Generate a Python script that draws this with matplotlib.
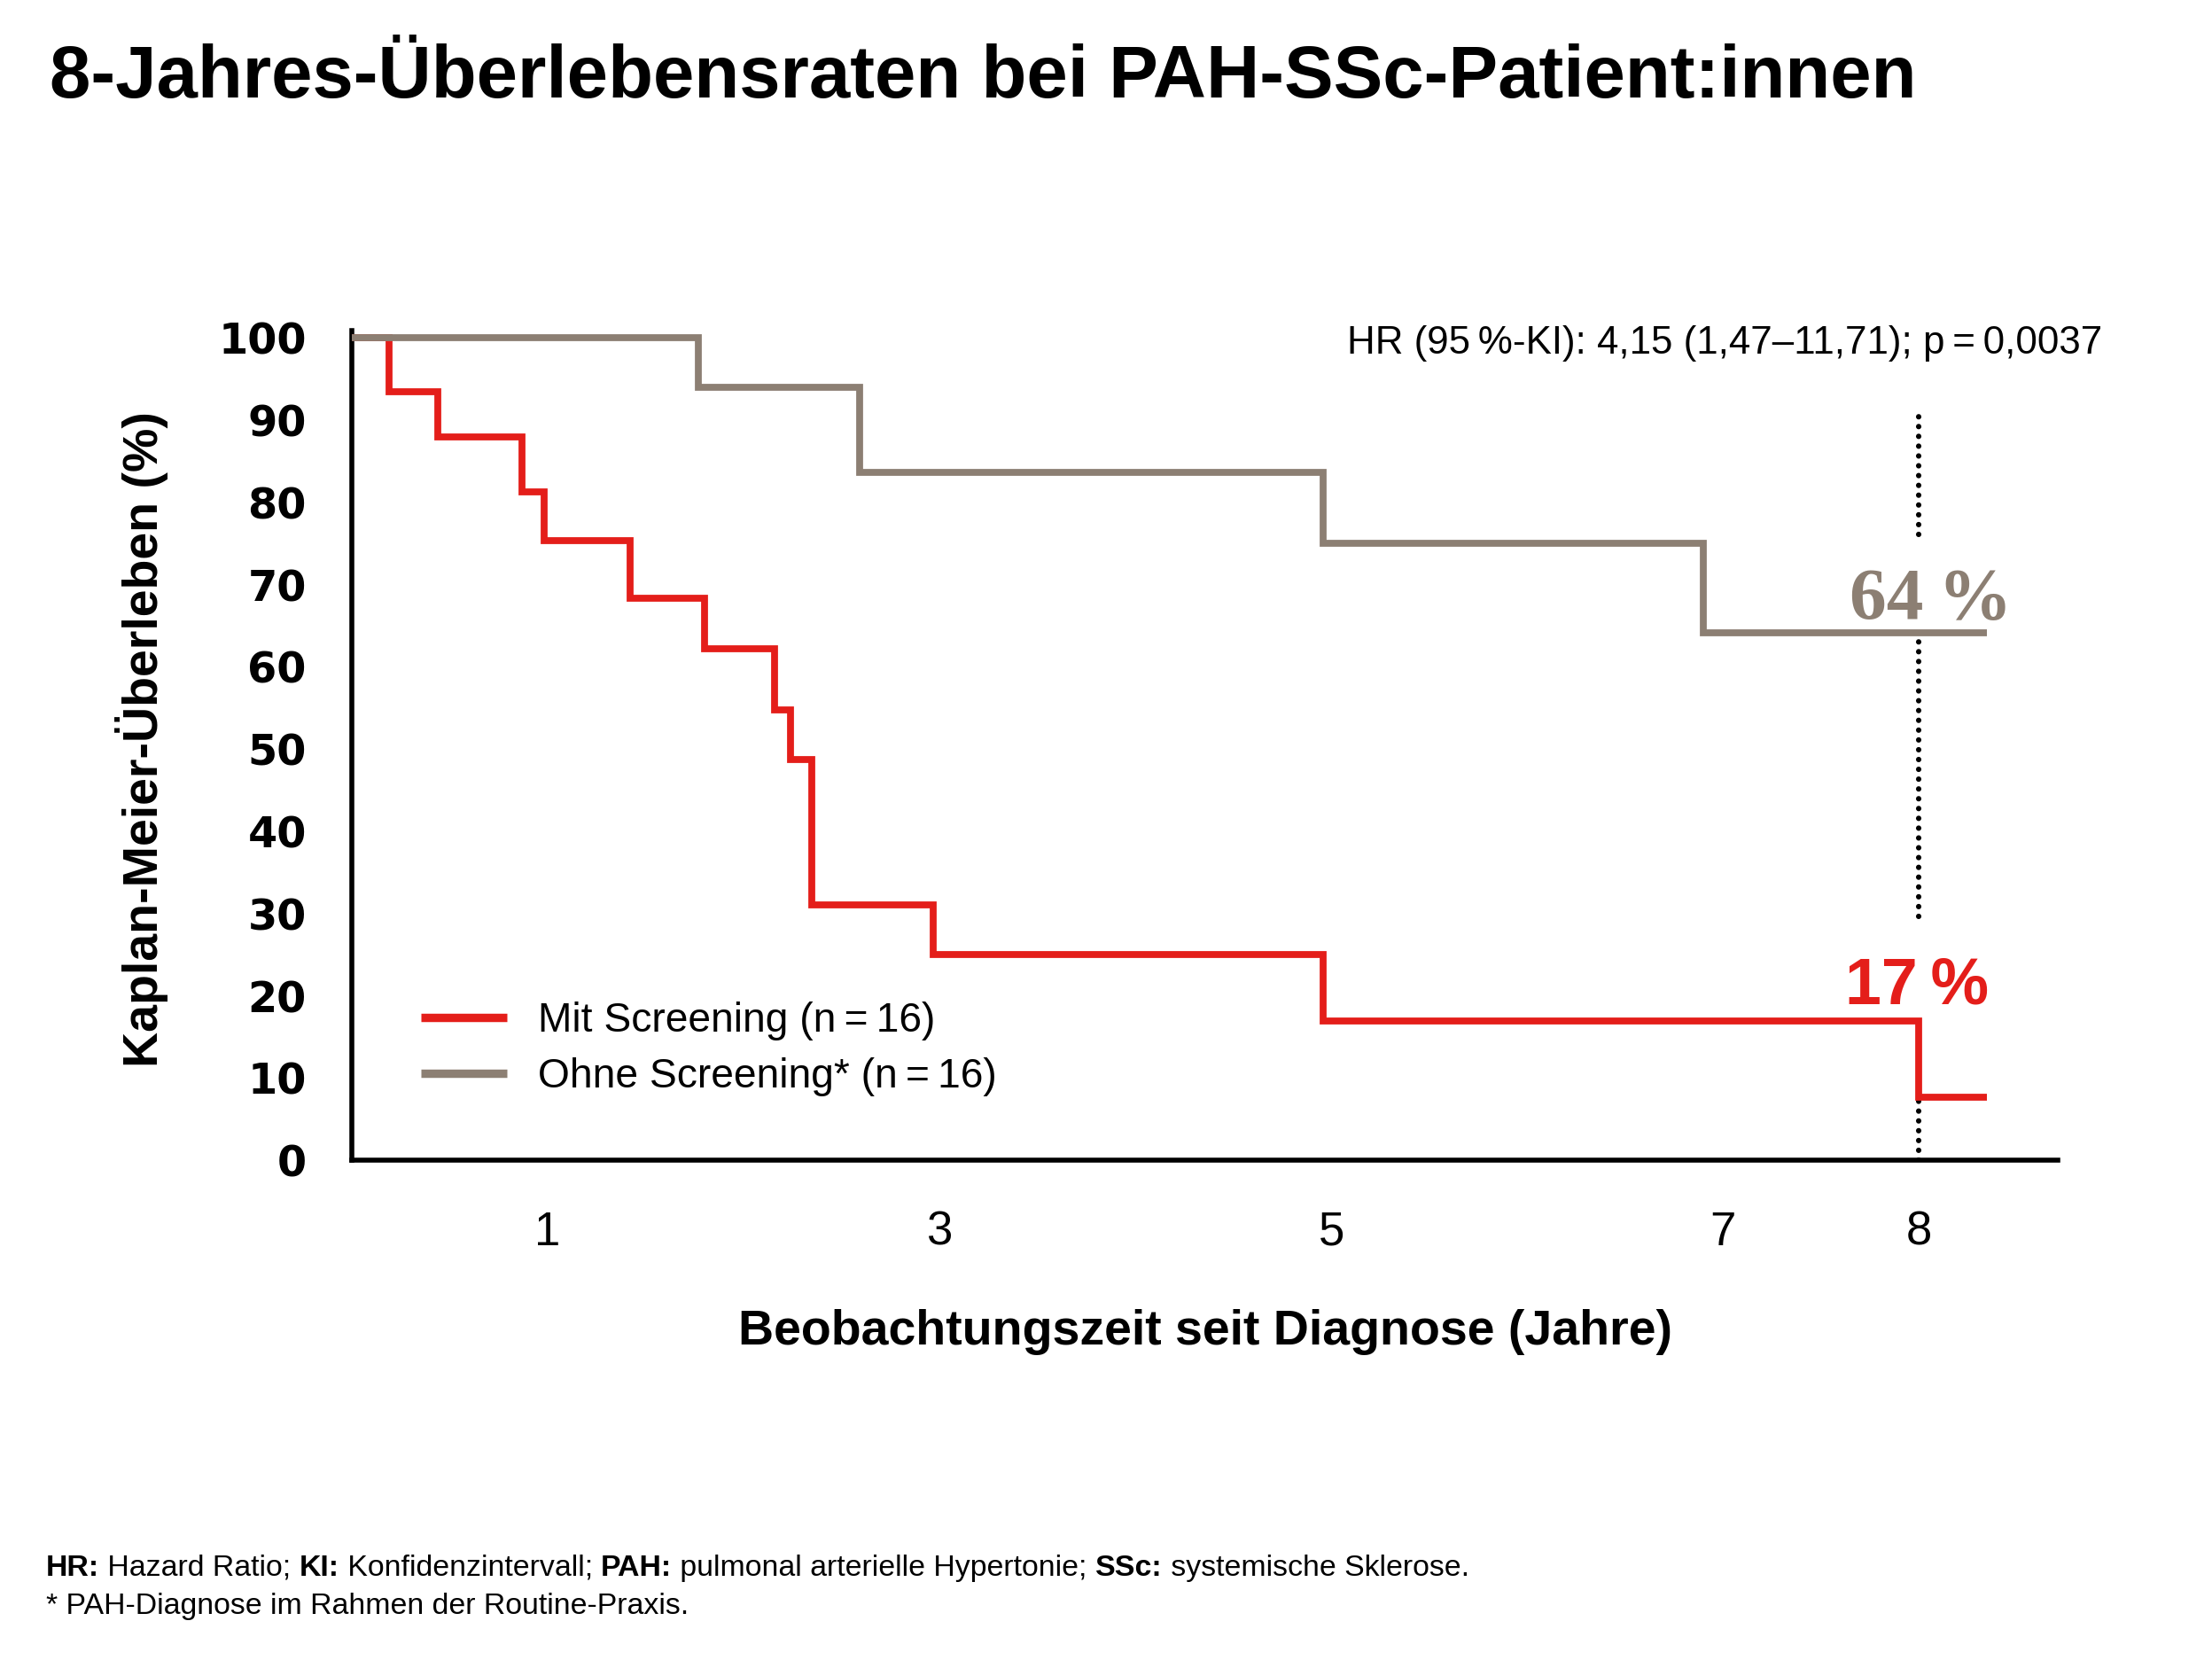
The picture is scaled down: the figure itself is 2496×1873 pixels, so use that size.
import matplotlib
matplotlib.use('Agg')
import matplotlib.pyplot as plt
from matplotlib.lines import Line2D

# ── data ─────────────────────────────────────────────────────────────────────
red_t = [0, 0.19, 0.44, 0.87, 0.98, 1.42, 1.80, 2.16, 2.24, 2.35, 2.97, 4.96, 8.0, 8.35]
red_s = [100, 93.5, 88.0, 81.25, 75.4, 68.3, 62.2, 54.8, 48.7, 31.1, 25.0, 16.9, 7.7, 7.7]
gray_t = [0, 1.77, 2.59, 4.96, 6.90, 8.35]
gray_s = [100, 94.0, 83.7, 75.0, 64.2, 64.2]

series_labels = ["Mit Screening (n\u2009=\u200916)", "Ohne Screening* (n\u2009=\u200916)"]
x_ticks = [1, 3, 5, 7, 8]
y_ticks = list(range(0, 101, 10))
mark_year = 8
# dotted 8-year marker, interrupted by the two percentage labels
mark_lo = [76.1, 29.7, 0]
mark_hi = [90.7, 64.2, 16.9]
label_red = "17\u2009%"
label_gray = "64\u2009%"

RED = "#E41E1A"
GRAY = "#8C7F73"
SANS = ['Liberation Sans', 'DejaVu Sans']

plt.rcParams['font.family'] = SANS

# ── canvas ───────────────────────────────────────────────────────────────────
fig = plt.figure(figsize=(12.48, 9.365), dpi=200)
ax = fig.add_axes([0.1591, 0.3011, 0.7712, 0.4997])
ax.set_xlim(0, 8.71)
ax.set_ylim(0, 100.9)

for s in ['top', 'right']:
    ax.spines[s].set_visible(False)
for s in ['left', 'bottom']:
    ax.spines[s].set_linewidth(2.0)
    ax.spines[s].set_color('black')

ax.set_xticks(x_ticks)
ax.set_yticks(y_ticks)
ax.tick_params(axis='both', length=0)
ax.tick_params(axis='x', pad=20.5, labelsize=19)
ax.tick_params(axis='y', pad=18.5)
for lab in ax.get_yticklabels():
    lab.set_fontfamily('DejaVu Sans')
    lab.set_fontweight('bold')
    lab.set_fontsize(17.2)

# ── curves ───────────────────────────────────────────────────────────────────
line_kw = dict(lw=2.8, solid_joinstyle='miter', solid_capstyle='butt', zorder=4)
ax.step(red_t, red_s, where='post', color=RED, **line_kw)
ax.step(gray_t, gray_s, where='post', color=GRAY, **line_kw)

ax.vlines([mark_year] * len(mark_lo), mark_lo, mark_hi, colors='black', lw=2.2,
          linestyles=[(0, (0.01, 1.8))], capstyle='round', zorder=1)

# percentage labels
ax.text(8.06, 65.9, label_gray, ha='center', va='baseline',
        fontsize=30, fontfamily='Liberation Serif', fontweight='bold', color=GRAY,
        zorder=2)
ax.text(7.99, 19.0, label_red, ha='center', va='baseline',
        fontsize=26.5, fontweight='bold', color=RED, zorder=2)

# ── legend ───────────────────────────────────────────────────────────────────
handles = [Line2D([], [], color=RED, lw=3.4, solid_capstyle='butt'),
           Line2D([], [], color=GRAY, lw=3.4, solid_capstyle='butt')]
ax.legend(handles, series_labels, loc='upper left', bbox_to_anchor=(0.0405, 0.191),
          frameon=False, fontsize=16.6, borderpad=0, borderaxespad=0,
          handlelength=2.1, handletextpad=0.76, labelspacing=0.40)

# ── texts ────────────────────────────────────────────────────────────────────
fig.text(0.0224, 0.9413, "8-Jahres-\u00dcberlebensraten bei PAH-SSc-Patient:innen",
         ha='left', va='baseline', fontsize=30, fontweight='bold')

fig.text(0.9503, 0.787, "HR (95\u2009%-KI): 4,15 (1,47\u201311,71); p\u2009=\u20090,0037",
         ha='right', va='baseline', fontsize=15.8)

fig.text(0.5447, 1 - 1517 / 1873, "Beobachtungszeit seit Diagnose (Jahre)",
         ha='center', va='baseline', fontsize=20, fontweight='bold')

fig.text(160 / 2496, 0.5547, "Kaplan-Meier-\u00dcberleben (%)", rotation=90,
         ha='center', va='center', fontsize=20, fontweight='bold')

# footnotes with bold abbreviations
renderer = fig.canvas.get_renderer()


def rich_line(x, y, parts, size=12.2):
    for txt, bold in parts:
        t = fig.text(x, y, txt, ha='left', va='baseline', fontsize=size,
                     fontweight='bold' if bold else 'normal')
        bb = t.get_window_extent(renderer=renderer)
        x += bb.width / fig.bbox.width


rich_line(52 / 2496, 1 - 1778 / 1873, [
    ("HR:", True), (" Hazard Ratio; ", False),
    ("KI:", True), (" Konfidenzintervall; ", False),
    ("PAH:", True), (" pulmonal arterielle Hypertonie; ", False),
    ("SSc:", True), (" systemische Sklerose.", False),
])
rich_line(52 / 2496, 1 - 1821 / 1873, [
    ("* PAH-Diagnose im Rahmen der Routine-Praxis.", False),
])

fig.savefig("out.png", dpi=200, facecolor='white')
plt.close(fig)
